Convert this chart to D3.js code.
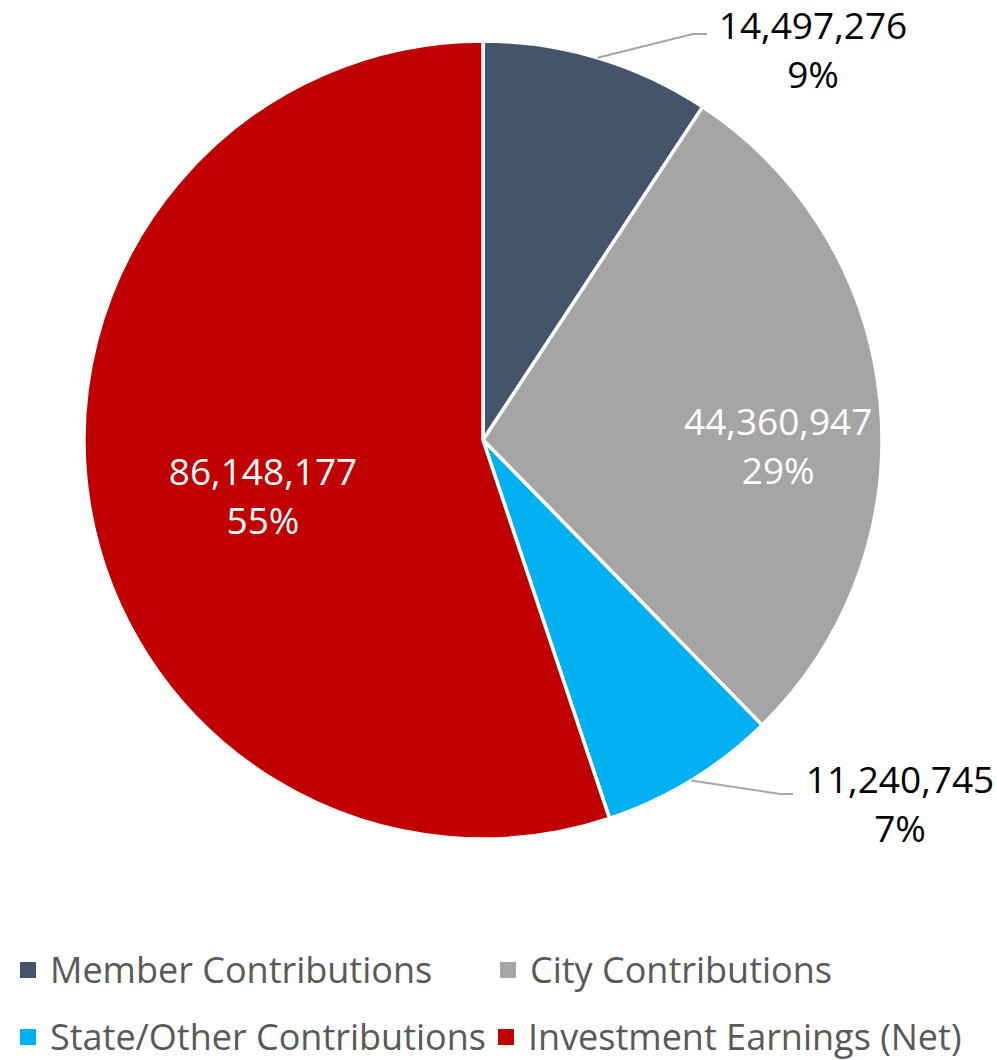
<!DOCTYPE html>
<html>
<head>
<meta charset="utf-8">
<script src="https://cdn.jsdelivr.net/npm/d3@7"></script>
<style>
  body { margin: 0; background: #fff; }
  svg text { font-family: 'Open Sans', sans-serif; }
</style>
</head>
<body>
<svg id="chart" width="997" height="1060"></svg>
<script>
const categories = ['Member Contributions', 'City Contributions', 'State/Other Contributions', 'Investment Earnings (Net)'];
const values = [14497276, 44360947, 11240745, 86148177];
const percentLabels = ['9%', '29%', '7%', '55%'];
const colors = ['#44546A', '#A5A5A5', '#00B0F0', '#C00000'];

const width = 997,
  cx = 483,
  cy = 440,
  radius = 399,
  labelSize = 37,
  lineGap = 49;

// label placement per slice: inside (radius factor) or outside with leader elbow
const labelOpts = [
  { inside: false, elbow: [210, -406], tail: 14, textX: 330, textY: -401 },
  { inside: true, k: 0.74, angleShift: 0.08 },
  { inside: false, elbow: [297, 354], tail: 13, textX: 417, textY: 353 },
  { inside: true, k: 0.563, angleShift: -0.042 }
];

const svg = d3.select('#chart');
const g = svg.append('g').attr('transform', 'translate(' + cx + ',' + cy + ')');

const pie = d3.pie().sort(null).value(d => d);
const arcs = pie(values);
const arc = d3.arc().innerRadius(0).outerRadius(radius);

g.selectAll('path.slice')
  .data(arcs)
  .enter()
  .append('path')
  .attr('class', 'slice')
  .attr('d', arc)
  .style('fill', (d, i) => colors[i])
  .style('stroke', '#fff')
  .style('stroke-width', 3.5)
  .style('stroke-linejoin', 'round');

const fmt = d3.format(',');

arcs.forEach((d, i) => {
  const o = labelOpts[i];
  const mid = (d.startAngle + d.endAngle) / 2;
  let x, y, fill;
  if (o.inside) {
    const a = mid + o.angleShift;
    x = Math.sin(a) * radius * o.k;
    y = -Math.cos(a) * radius * o.k;
    fill = '#fff';
  } else {
    const p0 = [Math.sin(mid) * radius, -Math.cos(mid) * radius];
    const p1 = o.elbow;
    const p2 = [p1[0] + o.tail, p1[1]];
    g.append('path')
      .attr('d', d3.line()([p0, p1, p2]))
      .style('fill', 'none')
      .style('stroke', '#A6A6A6')
      .style('stroke-width', 2);
    x = o.textX;
    y = o.textY;
    fill = '#000';
  }
  const t = g.append('text')
    .attr('x', x)
    .attr('y', y)
    .style('text-anchor', 'middle')
    .style('font-size', labelSize + 'px')
    .style('fill', fill);
  t.append('tspan').attr('x', x).attr('y', y).text(fmt(values[i]));
  t.append('tspan').attr('x', x).attr('y', y + lineGap).text(percentLabels[i]);
});

// legend, two rows
const legendPos = [[20, 970], [500, 970], [20, 1037], [498, 1037]];
const legend = svg.append('g').attr('class', 'legend');
categories.forEach((c, i) => {
  const [x, y] = legendPos[i];
  legend.append('rect')
    .attr('x', x)
    .attr('y', y - 8)
    .attr('width', 16)
    .attr('height', 16)
    .style('fill', colors[i]);
  legend.append('text')
    .attr('x', x + 30)
    .attr('y', y)
    .attr('dy', '0.35em')
    .style('font-size', '36px')
    .style('fill', '#595959')
    .text(c);
});
</script>
</body>
</html>
